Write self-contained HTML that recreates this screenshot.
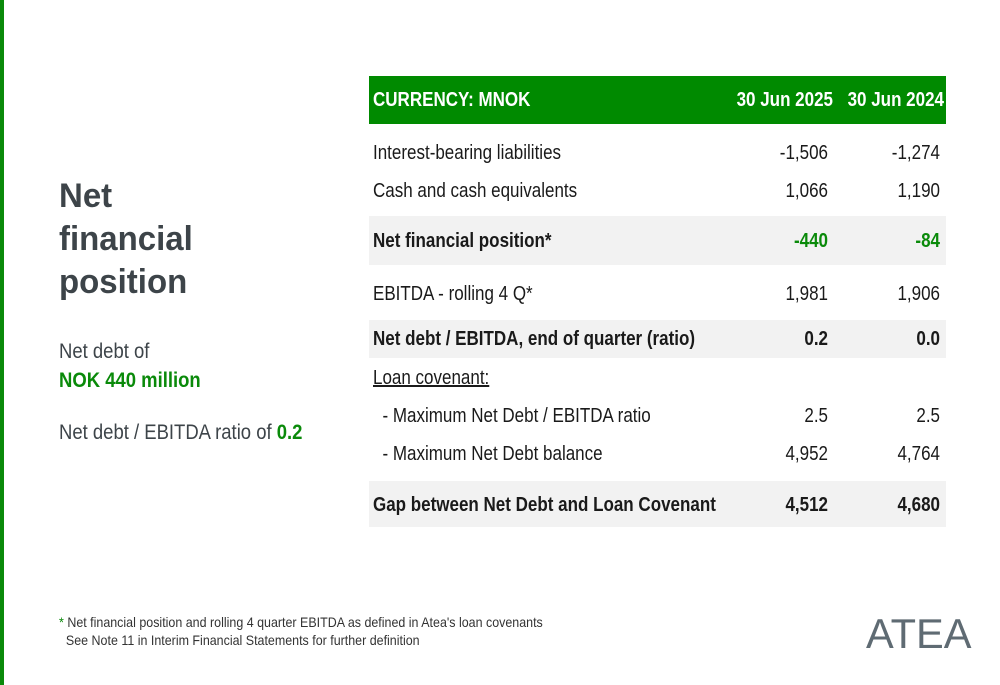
<!DOCTYPE html>
<html><head><meta charset="utf-8"><style>
*{margin:0;padding:0;box-sizing:border-box}
body{width:1000px;height:685px;background:#fff;position:relative;overflow:hidden;font-family:"Liberation Sans",sans-serif;color:#1a1a1a}
.abs{position:absolute;white-space:nowrap}
.t{font-size:20px;line-height:22px;transform:scaleX(0.85);transform-origin:left center}
.r{text-align:right;transform-origin:right center}
.b{font-weight:bold}
.g{color:#0a8a0a}
.band{position:absolute;left:369px;width:577px;background:#f2f2f2}
</style></head><body>
<div class="abs" style="left:0;top:0;width:4px;height:685px;background:#0a8a0a"></div>
<div class="abs" style="left:59px;top:175px;font-weight:bold;font-size:34px;line-height:43px;color:#3d4449;white-space:normal;transform:scaleX(0.97);transform-origin:left top">Net<br>financial<br>position</div>
<div class="abs" style="left:59px;top:337px;font-size:21px;line-height:29px;color:#3d4449;transform:scaleX(0.88);transform-origin:left top">Net debt of<br><span class="b g">NOK 440 million</span></div>
<div class="abs" style="left:59px;top:420px;font-size:21px;line-height:26px;color:#3d4449;transform:scaleX(0.88);transform-origin:left top">Net debt / EBITDA ratio of <span class="b g">0.2</span></div>

<div class="abs" style="left:369px;top:76px;width:577px;height:48px;background:#008a00"></div>
<div class="abs t b" style="left:373px;top:89px;color:#fff">CURRENCY: MNOK</div>
<div class="abs t b r" style="left:633px;width:200px;top:89px;color:#fff">30 Jun 2025</div>
<div class="abs t b r" style="left:744px;width:200px;top:89px;color:#fff">30 Jun 2024</div>

<div class="band" style="top:216px;height:49px"></div>
<div class="band" style="top:320px;height:38px"></div>
<div class="band" style="top:481px;height:46px"></div>

<div id="rows"></div>

<div class="abs" style="left:59px;top:613px;font-size:14px;line-height:18px;color:#333;transform:scaleX(0.89);transform-origin:left top"><span class="g">*</span> Net financial position and rolling 4 quarter EBITDA as defined in Atea's loan covenants<br>&nbsp; See Note 11 in Interim Financial Statements for further definition</div>
<div class="abs" style="left:866px;top:612px;font-size:42px;line-height:44px;color:#5f6b73;transform:scaleX(0.99);transform-origin:left top">ATEA</div>
<script>
const labels=["Interest-bearing liabilities","Cash and cash equivalents","Net financial position*","EBITDA - rolling 4 Q*","Net debt / EBITDA, end of quarter (ratio)","Loan covenant:","  - Maximum Net Debt / EBITDA ratio","  - Maximum Net Debt balance","Gap between Net Debt and Loan Covenant"];
const v2025=["-1,506","1,066","-440","1,981","0.2","","2.5","4,952","4,512"];
const v2024=["-1,274","1,190","-84","1,906","0.0","","2.5","4,764","4,680"];
const ys=[153,191,241,294,339,378,416,454,505];
const bold=[0,0,1,0,1,0,0,0,1];
const green=[0,0,1,0,0,0,0,0,0];
const c=document.getElementById('rows');
labels.forEach((l,i)=>{
 const top=ys[i]-11;
 const a=document.createElement('div');
 
 
 a.className='abs t'+(bold[i]?' b':'');
 a.style.cssText='left:373px;top:'+top+'px;'+(i==5?'text-decoration:underline;':'');
 a.textContent=l.replace(/^  /,'\u00a0\u00a0');
 c.appendChild(a);
 [[v2025,828],[v2024,940]].forEach(([arr,x],k)=>{
  const d=document.createElement('div');
  
  
  d.className='abs t r'+(bold[i]?' b':'')+(green[i]?' g':'');
  d.style.cssText='left:'+(x-120)+'px;width:120px;top:'+top+'px';
  d.textContent=arr[i];
  c.appendChild(d);
 });
});
</script>
</body></html>
